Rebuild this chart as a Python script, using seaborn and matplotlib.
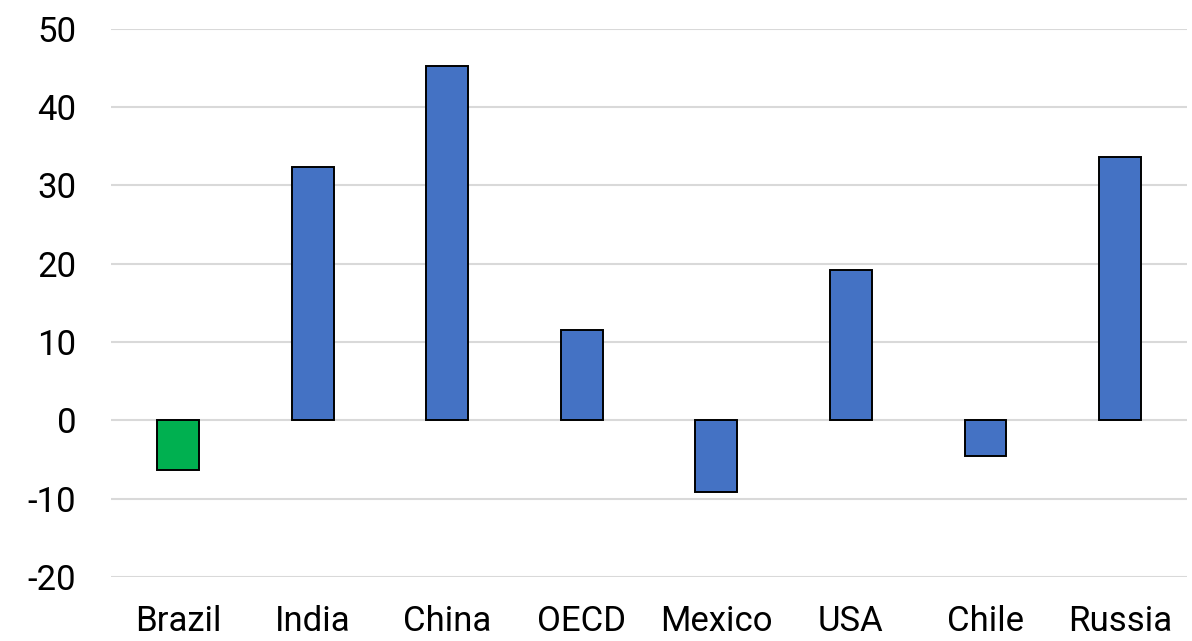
import matplotlib
matplotlib.use("Agg")
import matplotlib.pyplot as plt
import seaborn as sns
import pandas as pd

categories = ["Brazil", "India", "China", "OECD", "Mexico", "USA", "Chile", "Russia"]
values = [-6.3, 32.4, 45.2, 11.5, -9.1, 19.2, -4.5, 33.6]
bar_colors = ["#00B050", "#4472C4", "#4472C4", "#4472C4", "#4472C4", "#4472C4", "#4472C4", "#4472C4"]
y_ticks = [-20, -10, 0, 10, 20, 30, 40, 50]

sns.set_theme(style="white")
plt.rcParams["font.family"] = ["Roboto", "DejaVu Sans"]

df = pd.DataFrame({"country": categories, "value": values})

fig = plt.figure(figsize=(11.92, 6.41), dpi=100)
ax = fig.add_axes([0.093, 0.10, 0.903, 0.855])

sns.barplot(data=df, x="country", y="value", hue="country",
            palette=dict(zip(categories, bar_colors)), legend=False, saturation=1,
            width=0.31, edgecolor="black", linewidth=1.4, ax=ax, zorder=3)

ax.set_ylim(-20, 50)
ax.set_yticks(y_ticks)
ax.set_yticklabels([str(t) for t in y_ticks])
ax.set_xlim(-0.5, len(categories) - 0.5)
ax.grid(axis="y", color="#D9D9D9", linewidth=1.5, zorder=0)
ax.grid(axis="x", visible=False)
for s in ax.spines.values():
    s.set_visible(False)
ax.set_xlabel("")
ax.set_ylabel("")
ax.tick_params(axis="y", labelsize=25, pad=25, length=0, colors="black")
ax.tick_params(axis="x", labelsize=25, pad=20, length=0, colors="black")

fig.savefig("out.png", dpi=100, facecolor="white")
